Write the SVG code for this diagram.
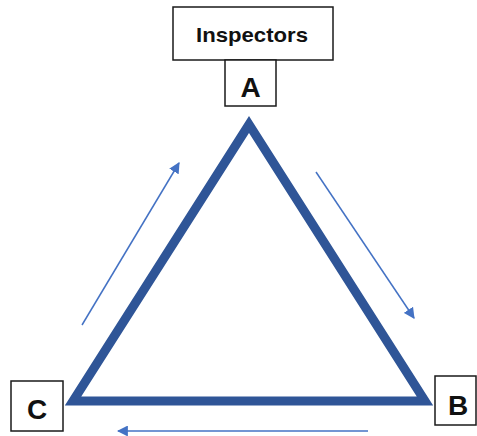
<svg xmlns="http://www.w3.org/2000/svg" width="477" height="436" viewBox="0 0 477 436">
<style>
.box{fill:#fff;stroke:#1a1a1a;stroke-width:1.5}
.lbl{font-family:"Liberation Sans",Arial,sans-serif;font-weight:bold;fill:#111;text-anchor:middle}
.flow{stroke:#4472C4;stroke-width:1.5;fill:none}
</style>
<defs>
<marker id="ahb" viewBox="0 0 10 10" refX="9" refY="5" markerWidth="11" markerHeight="11" markerUnits="userSpaceOnUse" orient="auto">
<path d="M0,0 L10,5 L0,10 z" fill="#4472C4"/>
</marker>
</defs>
<g id="triangle">
<polygon points="249,124.5 425,401 73,401" fill="none" stroke="#2F5597" stroke-width="9" stroke-linejoin="miter" stroke-miterlimit="10"/>
</g>
<g id="connectors">
<line class="flow" x1="82" y1="325" x2="179" y2="163" marker-end="url(#ahb)"/>
<line class="flow" x1="316" y1="172" x2="414" y2="318" marker-end="url(#ahb)"/>
<line class="flow" x1="368" y1="431" x2="118" y2="431" marker-end="url(#ahb)"/>
</g>
<g id="inspectors">
<rect class="box" x="173" y="7" width="160" height="53"/>
<text class="lbl" x="252" y="42" font-size="21" textLength="112" lengthAdjust="spacingAndGlyphs">Inspectors</text>
</g>
<g id="nodeA">
<rect class="box" x="225" y="60" width="51" height="46"/>
<text class="lbl" x="250.5" y="97" font-size="28">A</text>
</g>
<g id="nodeB">
<rect class="box" x="435" y="376" width="41" height="49"/>
<text class="lbl" x="458" y="415" font-size="28">B</text>
</g>
<g id="nodeC">
<rect class="box" x="11" y="381" width="52" height="50"/>
<text class="lbl" x="37" y="419" font-size="28">C</text>
</g>
</svg>
